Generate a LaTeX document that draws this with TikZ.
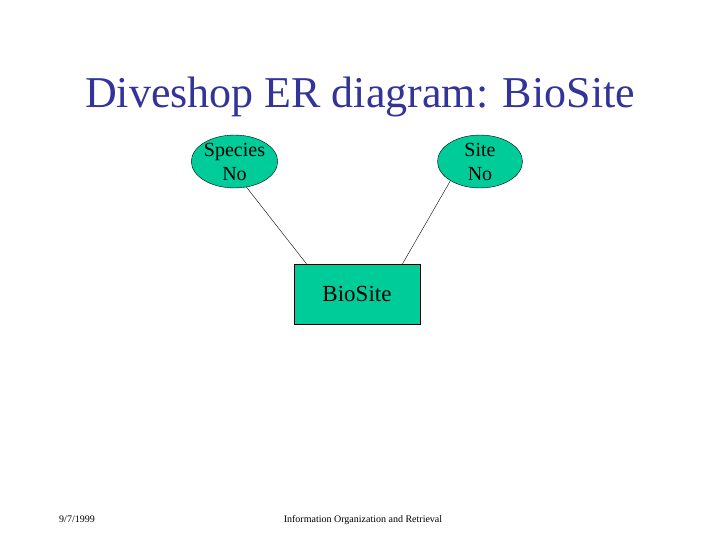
\documentclass[tikz,border=0pt]{standalone}
\usepackage{fontspec}
\setmainfont{Liberation Serif}
\usetikzlibrary{calc,shapes.geometric}
\definecolor{titleblue}{RGB}{51,51,153}
\definecolor{ergreen}{RGB}{0,204,153}
\tikzset{
  attr/.style={ellipse, draw, fill=ergreen, minimum width=85pt, minimum height=47pt,
    inner sep=0pt, align=center, font=\fontsize{20}{24}\selectfont},
  entity/.style={rectangle, draw, fill=ergreen, minimum width=126pt, minimum height=60pt,
    inner sep=0pt, font=\fontsize{23}{27}\selectfont},
  foot/.style={font=\fontsize{10}{12}\selectfont, anchor=base}
}
\begin{document}
\begin{tikzpicture}[x=1pt,y=-1pt]
  \useasboundingbox (0,0) rectangle (720,540);

  % title
  \node[anchor=base, text=titleblue, font=\fontsize{44}{50}\selectfont] (title) at (360,108) {Diveshop ER diagram: BioSite};

  % attributes
  \node[attr] (species) at (234.5,161.5) {Species\\No};
  \node[attr] (siteno) at (480,161.5) {Site\\No};

  % entity
  \node[entity] (biosite) at (357,294) {BioSite};

  % links
  \draw [thin] (species.-65) -- ($(biosite.north west)!0.1!(biosite.north east)$);
  \draw [thin] (siteno.-147) -- ($(biosite.north west)!0.86!(biosite.north east)$);

  % footer
  \node[foot] (date) at (77,522) {9/7/1999};
  \node[foot] (course) at (363,522) {Information Organization and Retrieval};
\end{tikzpicture}
\end{document}
